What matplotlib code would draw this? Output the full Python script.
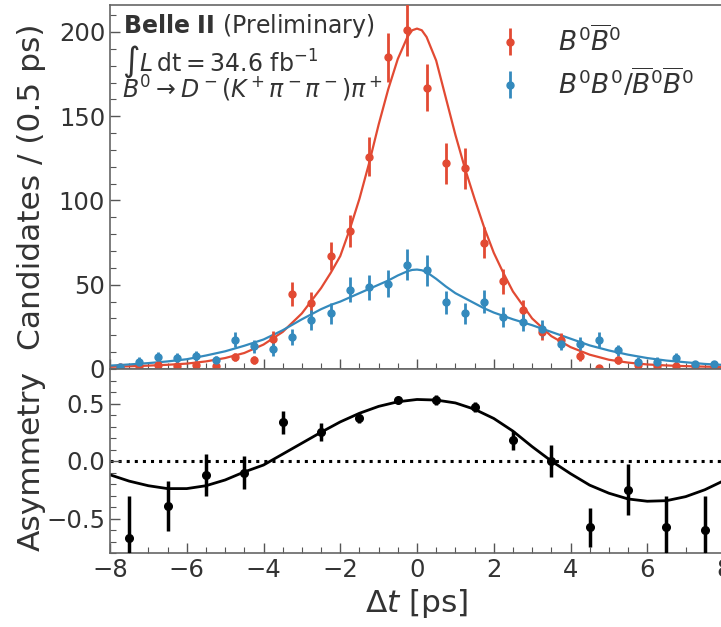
import numpy as np
import matplotlib
matplotlib.use('Agg')
import matplotlib.pyplot as plt
from matplotlib.ticker import AutoMinorLocator

# bin centres, 0.5 ps bins (top) and 1 ps bins (asymmetry)
t_bins = np.arange(-7.75, 8.0, 0.5)
t_asym = np.arange(-7.5, 8.0, 1.0)

# opposite flavour B0 B0bar
n_of = [1, 1.5, 2.5, 1.5, 2.5, 1.8, 7, 5.3, 18, 44.5, 39, 67, 82, 126, 185, 201,
        167, 122, 119, 75, 52, 35, 22, 17, 7.5, 0.5, 5.3, 2.5, 2, 2, 1.5, 1]
e_of = [1.5, 1.5, 2, 1.5, 2, 1.5, 2.5, 2.5, 4.5, 7, 6.5, 8.5, 9.5, 11.5, 14.5, 15.5,
        14, 12, 12, 9, 7.5, 6, 5, 4.5, 3, 1.5, 2.5, 1.5, 1.5, 1.5, 1.5, 1.5]
# same flavour B0 B0 / B0bar B0bar
n_sf = [1.2, 4.4, 7.3, 6.3, 7.7, 5.3, 17.5, 13.5, 12, 19, 29, 33, 47, 48.5, 50.5, 62,
        58.5, 39.5, 33, 40, 31, 28, 24, 15, 15, 17.5, 11, 4.4, 4.4, 6.3, 3, 3]
e_sf = [1.5, 2.5, 3, 3, 3, 2.5, 4.5, 4, 4, 5, 6, 6, 7.5, 7.5, 8, 9,
        9, 7, 6, 7, 6, 5.5, 5, 4, 4, 4.5, 3.5, 2.5, 2.5, 3, 2, 2]

# fit curves
t_fit = [-8, -7.5, -7, -6.5, -6, -5.5, -5, -4.5, -4, -3.5, -3, -2.5, -2.25, -2,
         -1.75, -1.5, -1.25, -1, -0.75, -0.5, -0.25, -0.125, 0, 0.125, 0.25, 0.5,
         0.75, 1, 1.25, 1.5, 1.75, 2, 2.25, 2.5, 3, 3.5, 4, 4.5, 5, 5.5, 6, 6.5,
         7, 7.5, 8]
fit_of = [1.3, 1.6, 2, 2.5, 3.2, 4.5, 6.5, 9.5, 14.5, 22, 33, 48, 57, 67,
          83, 101, 122, 145, 166, 184, 197, 201, 202, 201, 197, 183,
          161, 139, 119, 101, 84, 69, 57, 46, 30, 19.5, 13, 8.5, 5.5, 3.8, 2.7, 2.1,
          1.7, 1.4, 1.2]
fit_sf = [2, 2.7, 3.5, 4.5, 5.8, 8, 10.5, 13.8, 17.5, 23, 29.5, 35.5, 38, 40,
          42.5, 45, 47.5, 50, 52.5, 55.5, 58, 58.8, 59, 58.6, 57.5, 53.5,
          49, 45, 42, 39, 36, 33.5, 31.5, 29.5, 26, 22, 18, 14, 11, 8.5, 6.5, 5,
          4, 3, 2.4]

asym = [-0.67, -0.39, -0.12, -0.10, 0.335, 0.25, 0.37, 0.53,
        0.53, 0.47, 0.18, 0.0, -0.575, -0.25, -0.575, -0.60]
asym_err = [0.37, 0.22, 0.18, 0.14, 0.10, 0.08, 0.04, 0.02,
            0.04, 0.04, 0.08, 0.14, 0.17, 0.22, 0.27, 0.30]

t_afit = [-8, -7.5, -7, -6.5, -6, -5.5, -5, -4.5, -4, -3.5, -3, -2.5, -2, -1.5, -1,
          -0.5, 0, 0.5, 1, 1.5, 2, 2.5, 3, 3.5, 4, 4.5, 5, 5.5, 6, 6.5, 7, 7.5, 8]
afit = [-0.12, -0.175, -0.215, -0.24, -0.24, -0.215, -0.165, -0.095, -0.035, 0.06,
        0.155, 0.25, 0.34, 0.415, 0.475, 0.515, 0.535, 0.53, 0.505, 0.45, 0.37,
        0.26, 0.125, 0.0, -0.11, -0.21, -0.28, -0.33, -0.35, -0.345, -0.31, -0.25, -0.17]

red = '#E24A33'
blue = '#348ABD'
txt = '#333333'

plt.rcParams['font.family'] = 'DejaVu Sans'
plt.rcParams['mathtext.fontset'] = 'dejavusans'

fig = plt.figure(figsize=(7.21, 6.27), dpi=100)
W, H = 721.0, 627.0
ax1 = fig.add_axes([110/W, 1-369/H, 614/W, 364/H])
ax2 = fig.add_axes([110/W, 1-553/H, 614/W, 184/H], sharex=ax1)

ax1.plot(t_fit, fit_of, color=red, lw=1.6, zorder=2)
ax1.plot(t_fit, fit_sf, color=blue, lw=1.6, zorder=2)
h1 = ax1.errorbar(t_bins, n_of, yerr=e_of, fmt='o', color=red, ms=5, elinewidth=2, capsize=0, zorder=3)
h2 = ax1.errorbar(t_bins, n_sf, yerr=e_sf, fmt='o', color=blue, ms=5, elinewidth=2, capsize=0, zorder=3)

ax1.set_xlim(-8, 8)
ax1.set_ylim(0, 216)
ax1.set_yticks([0, 50, 100, 150, 200])
ax1.set_ylabel('Candidates / (0.5 ps)', fontsize=22.5, color=txt)
ax1.yaxis.set_label_coords(-0.105, 0.5)
plt.setp(ax1.get_xticklabels(), visible=False)

leg = ax1.legend([h1, h2], [r'$B^0\overline{B}^0$', r'$B^0B^0/\overline{B}^0\overline{B}^0$'],
                 loc='upper left', bbox_to_anchor=(497/W, 1-26/H), bbox_transform=fig.transFigure,
                 frameon=False, fontsize=19, handlelength=1.0, handletextpad=1.3,
                 borderpad=0, borderaxespad=0, labelspacing=0.4)
for t in leg.get_texts():
    t.set_color(txt)

fig.text(123/W, 1-33/H, r'$\bf{Belle\ II}$ (Preliminary)', fontsize=17, color=txt)
fig.text(122/W, 1-71/H, r'$\int L\,\mathrm{dt} = 34.6\ \mathrm{fb}^{-1}$', fontsize=17, color=txt)
fig.text(122/W, 1-98/H, r'$B^0 \rightarrow D^-(K^+\pi^-\pi^-)\pi^+$', fontsize=17, color=txt)

ax2.axhline(0, color='black', ls=':', lw=2.2, zorder=1)
ax2.plot(t_afit, afit, color='black', lw=2, zorder=2)
ax2.errorbar(t_asym, asym, yerr=asym_err, fmt='o', color='black', ms=5.5, elinewidth=2.5, capsize=0, zorder=3)
ax2.set_ylim(-0.8, 0.8)
ax2.set_yticks([-0.5, 0.0, 0.5])
ax2.set_xticks([-8, -6, -4, -2, 0, 2, 4, 6, 8])
ax2.set_ylabel('Asymmetry', fontsize=22.5, color=txt)
ax2.yaxis.set_label_coords(-0.105, 0.5)
ax2.set_xlabel(r'$\Delta t$ [ps]', fontsize=22.5, color=txt)

for ax in (ax1, ax2):
    ax.xaxis.set_minor_locator(AutoMinorLocator(4))
    ax.yaxis.set_minor_locator(AutoMinorLocator(5))
    ax.tick_params(which='both', direction='in', labelsize=17.5, labelcolor=txt, color='#555555')
    ax.tick_params(which='major', length=7, width=1)
    ax.tick_params(which='minor', length=4, width=0.8)
    for s in ax.spines.values():
        s.set_color('#666666')
        s.set_linewidth(1.2)

plt.savefig('out.png', dpi=100)
